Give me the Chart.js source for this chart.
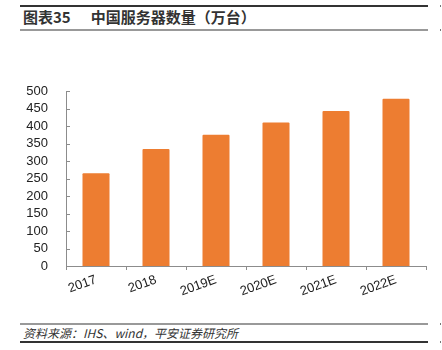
<!DOCTYPE html>
<html>
<head>
<meta charset="utf-8">
<script src="https://cdn.jsdelivr.net/npm/chart.js@4.4.1/dist/chart.umd.min.js"></script>
<style>
  html, body { margin: 0; padding: 0; background: #fff; }
  body { width: 442px; height: 350px; position: relative; overflow: hidden; font-family: "Liberation Sans", Arial, sans-serif; }
  .rule { position: absolute; left: 20px; width: 408px; }
  .dot { position: absolute; left: 440px; width: 1px; height: 2px; background: #777; }
  .title { position: absolute; left: 23px; top: 7px; font-family: "Noto Sans CJK SC", sans-serif; font-weight: bold; font-size: 15px; color: #333; line-height: 20px; white-space: nowrap; }
  .title .sub { margin-left: 20px; }
  .source { position: absolute; left: 23px; top: 325px; font-family: "Noto Sans CJK SC", sans-serif; font-style: italic; font-size: 12px; color: #333; line-height: 16px; white-space: nowrap; }
  #chart { position: absolute; left: 0; top: 70px; }
</style>
</head>
<body>
<div class="rule" style="top:5px;height:1.5px;background:#333"></div>
<div class="title">图表35<span class="sub">中国服务器数量（万台）</span></div>
<div class="rule" style="top:29px;height:2px;background:#999"></div>
<div class="dot" style="top:5px"></div>
<div class="dot" style="top:29px"></div>

<canvas id="chart" width="442" height="240"></canvas>

<div class="rule" style="top:323px;height:2px;background:#999"></div>
<div class="source">资料来源：IHS、wind，平安证券研究所</div>
<div class="rule" style="top:341px;height:1.5px;background:#333"></div>
<div class="dot" style="top:323px"></div>
<div class="dot" style="top:341px"></div>

<script>
// Server count in China, 10k units
const years = ['2017', '2018', '2019E', '2020E', '2021E', '2022E'];
const servers = [265, 334, 375, 410, 443, 478];
const yMax = 500;
const yStep = 50;

const axisColor = '#8c8c8c';
const textColor = '#222';

// short tick marks on the inner side of the value axis
const innerTicks = {
  id: 'innerTicks',
  afterDraw(chart) {
    const y = chart.scales.y;
    const ctx = chart.ctx;
    ctx.save();
    ctx.strokeStyle = axisColor;
    ctx.lineWidth = 1;
    y.ticks.forEach((t, i) => {
      const py = Math.round(y.getPixelForTick(i)) + 0.5;
      ctx.beginPath();
      ctx.moveTo(y.right, py);
      ctx.lineTo(y.right + 4, py);
      ctx.stroke();
    });
    ctx.restore();
  }
};

new Chart(document.getElementById('chart'), {
  type: 'bar',
  data: {
    labels: years,
    datasets: [{
      data: servers,
      backgroundColor: '#ED7D31',
      barPercentage: 0.45,
      categoryPercentage: 1.0,
      borderRadius: 1
    }]
  },
  options: {
    responsive: false,
    animation: false,
    layout: { padding: { top: 21, right: 16, left: 0, bottom: 0 } },
    plugins: { legend: { display: false }, tooltip: { enabled: false } },
    scales: {
      x: {
        grid: { drawOnChartArea: false, drawTicks: true, tickLength: 4, color: axisColor },
        border: { color: axisColor },
        ticks: {
          color: textColor,
          font: { family: 'Liberation Sans', size: 13 },
          minRotation: 20,
          maxRotation: 20,
          padding: 2
        },
        afterFit(scale) { scale.height = 44; }
      },
      y: {
        min: 0,
        max: yMax,
        grid: { display: false },
        border: { color: axisColor },
        ticks: {
          stepSize: yStep,
          autoSkip: false,
          color: textColor,
          font: { family: 'Liberation Sans', size: 13 },
          padding: 10
        },
        afterFit(scale) { scale.width = 66; }
      }
    }
  },
  plugins: [innerTicks]
});
</script>
</body>
</html>
